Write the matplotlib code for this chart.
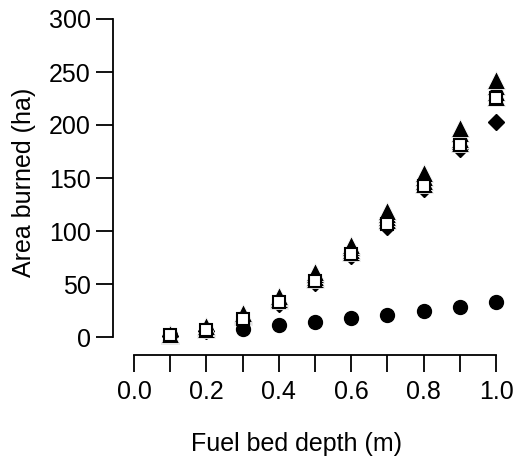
import matplotlib
matplotlib.use("Agg")
import matplotlib.pyplot as plt

plt.rcParams['font.family'] = ['Liberation Sans', 'DejaVu Sans']

depth = [0.1, 0.2, 0.3, 0.4, 0.5, 0.6, 0.7, 0.8, 0.9, 1.0]
tri_a = [3, 10, 23, 39, 61, 87, 119, 155, 197, 242]
tri_b = [3, 9, 22, 38, 59, 85, 116, 151, 192, 237]
tri_c = [2, 9, 21, 36, 57, 82, 113, 147, 187, 231]
tri_d = [2, 8, 20, 35, 55, 80, 110, 144, 183, 226]
squares = [2, 7, 17, 33, 53, 78, 107, 142, 181, 225]
diamonds = [1, 6, 15, 31, 51, 76, 104, 140, 177, 203]
circles = [2, 6, 8, 11, 14, 18, 21, 25, 28, 33]

fig = plt.figure(figsize=(5.18, 4.69), dpi=100)
ax = fig.add_axes([134/518, (469-337)/469, (496-134)/518, (337-19)/469])
ax.set_xlim(0, 1)
ax.set_ylim(0, 300)

kw = dict(linestyle='none', clip_on=False)
ax.plot(depth, circles, marker='o', color='black', markersize=10, **kw)
ax.plot(depth, diamonds, marker='D', color='black', markersize=8.5, **kw)
for t in (tri_d, tri_c, tri_b, tri_a):
    ax.plot(depth, t, marker='^', markerfacecolor='black', markeredgecolor='white',
            markeredgewidth=0.6, markersize=13, **kw)
ax.plot(depth, squares, marker='s', markerfacecolor='white', markeredgecolor='black',
        markeredgewidth=1.5, markersize=8.5, **kw)

for s in ('top', 'right'):
    ax.spines[s].set_visible(False)
ax.spines['left'].set_position(('outward', 15))
ax.spines['bottom'].set_position(('outward', 13))
ax.spines['left'].set_bounds(0, 300)
ax.spines['bottom'].set_bounds(0, 1)
for s in ('left', 'bottom'):
    ax.spines[s].set_linewidth(1.3)

ax.set_xticks([i / 10 for i in range(11)])
ax.set_xticklabels(['0.0' if i == 0 else (f'{i/10:.1f}' if i % 2 == 0 else '') for i in range(11)])
ax.set_yticks([0, 50, 100, 150, 200, 250, 300])
ax.tick_params(axis='both', direction='out', length=12, width=1.3, labelsize=18, pad=6)
ax.tick_params(axis='y', pad=4)

ax.set_xlabel('Fuel bed depth (m)', fontsize=18)
ax.set_ylabel('Area burned (ha)', fontsize=18)
ax.xaxis.set_label_coords(0.45, -0.30)
ax.yaxis.set_label_coords(-0.27, 0.485)

fig.savefig('out.png', dpi=100)
